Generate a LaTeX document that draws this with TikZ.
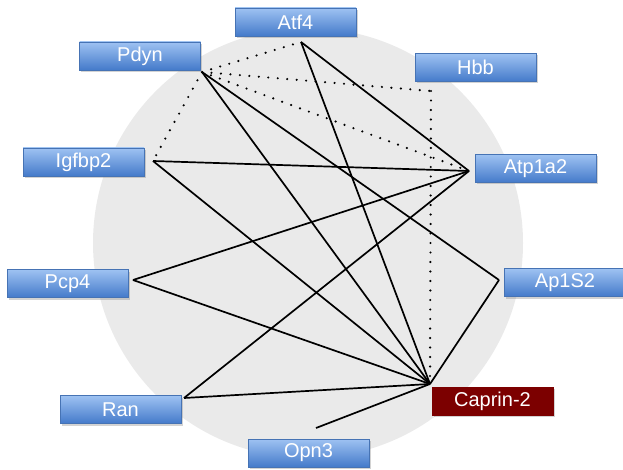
\documentclass[tikz,border=0pt]{standalone}
\usepackage{fontspec}
\setmainfont{Liberation Sans}
\usepackage{tikz}
\usetikzlibrary{positioning,shadows}
\definecolor{ringgray}{RGB}{234,234,234}
\definecolor{boxtop}{RGB}{158,194,242}
\definecolor{boxbottom}{RGB}{68,122,202}
\definecolor{boxedge}{RGB}{70,115,180}
\definecolor{hubred}{RGB}{124,0,0}
\tikzset{
    gene/.style={
        draw=boxedge,
        line width=0.6pt,
        top color=boxtop,
        bottom color=boxbottom,
        minimum width=121pt,
        minimum height=28pt,
        inner sep=0pt,
        text=white,
        font=\fontsize{20}{24}\selectfont,
        drop shadow={opacity=0.35, shadow xshift=1.5pt, shadow yshift=-2pt}
    },
    hub/.style={
        gene,
        draw=hubred,
        top color=hubred,
        bottom color=hubred
    },
    link/.style={
        draw,
        line width=1.7pt
    },
    weak/.style={
        draw,
        line width=2.4pt,
        line cap=round,
        dash pattern=on 0pt off 9.5pt
    }
}

\begin{document}
\begin{tikzpicture}[x=1pt, y=-1pt]
    \useasboundingbox (0,0) rectangle (623,470);
    \fill[ringgray] (308,243) circle [radius=215pt];

    % ends of the connectors
    \coordinate (pdyn) at (202,72);
    \coordinate (atf) at (301,42);
    \coordinate (hbb) at (431,91);
    \coordinate (igf) at (153,161);
    \coordinate (atp) at (469,171);
    \coordinate (pcp) at (133,280);
    \coordinate (aps) at (499,280);
    \coordinate (ran) at (184,398);
    \coordinate (cap) at (430,384);
    \coordinate (opn) at (316,428);

    \draw[weak] (pdyn) -- (igf);
    \draw[weak] (pdyn) -- (atf);
    \draw[weak] (pdyn) -- (hbb);
    \draw[weak] (pdyn) -- (atp);
    \draw[weak] (hbb) -- (cap);

    \draw[link] (pdyn) -- (aps);
    \draw[link] (pdyn) -- (cap);
    \draw[link] (atf) -- (atp);
    \draw[link] (atf) -- (cap);
    \draw[link] (igf) -- (atp);
    \draw[link] (igf) -- (cap);
    \draw[link] (pcp) -- (atp);
    \draw[link] (pcp) -- (cap);
    \draw[link] (ran) -- (atp);
    \draw[link] (ran) -- (cap);
    \draw[link] (aps) -- (cap);
    \draw[link] (opn) -- (cap);

    \node[gene] (Atf4) at (295.5,22) {Atf4};
    \node[gene] (Pdyn) at (140,56) {Pdyn};
    \node[gene] (Hbb) at (475.5,67.5) {Hbb};
    \node[gene] (Igfbp2) at (83.5,162) {Igfbp2};
    \node[gene] (Atp1a2) at (535.5,168.5) {Atp1a2};
    \node[gene] (Pcp4) at (67.5,283.5) {Pcp4};
    \node[gene] (Ap1S2) at (565,282.5) {Ap1S2};
    \node[gene] (Ran) at (120.5,409.5) {Ran};
    \node[hub] (Caprin2) at (492.5,401) {Caprin-2};
    \node[gene] (Opn3) at (308.5,453) {Opn3};
\end{tikzpicture}
\end{document}
